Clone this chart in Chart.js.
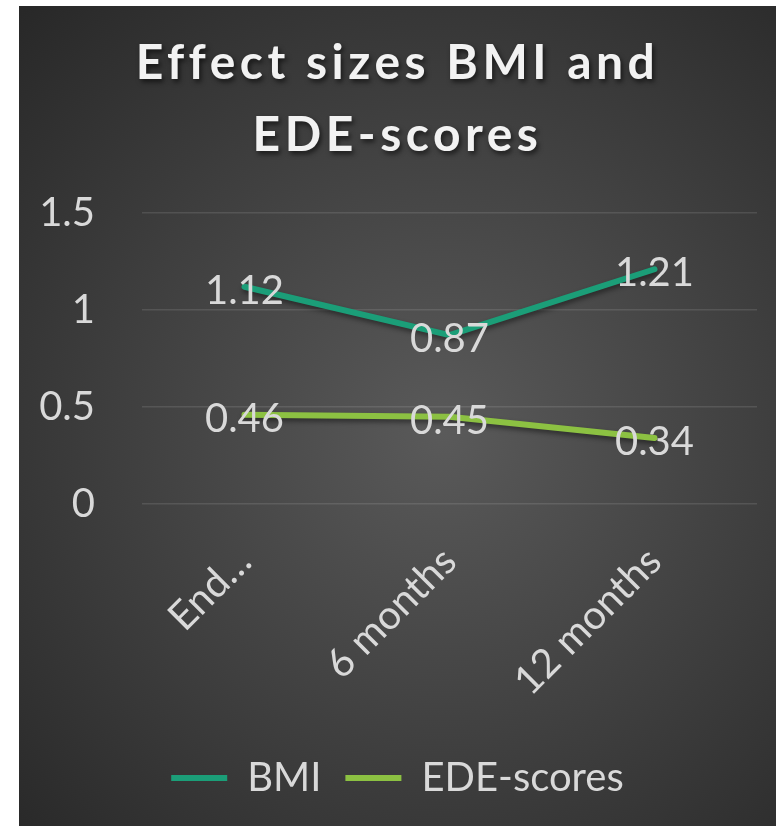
<!DOCTYPE html>
<html><head><meta charset="utf-8">
<script src="https://cdn.jsdelivr.net/npm/chart.js@4"></script>
<style>
html,body{margin:0;padding:0;background:#fff;}
#wrap{position:absolute;left:19px;top:6px;width:757px;height:820px;}
canvas{display:block;}
</style></head><body>
<div id="wrap"><canvas id="c" width="757" height="820"></canvas></div>
<script>
const categories = ["End…", "6 months", "12 months"];
const bmiValues = [1.12, 0.87, 1.21];
const edeValues = [0.46, 0.45, 0.34];
const seriesNames = ["BMI", "EDE-scores"];
const yMin = 0, yMax = 1.5, yStep = 0.5;
const titleLines = ["Effect sizes BMI and", "EDE-scores"];

const FONT = "Lato, 'Open Sans', sans-serif";
const TEXT = "#d9d9d9";

const bgPlugin = {
  id: 'bg',
  beforeDraw(chart) {
    const {ctx, width, height} = chart;
    const cx = width * 0.56, cy = height * 0.52;
    const g = ctx.createRadialGradient(cx, cy, 0, cx, cy, 620);
    g.addColorStop(0, '#5a5a5a');
    g.addColorStop(1, '#262626');
    ctx.save();
    ctx.fillStyle = g;
    ctx.fillRect(0, 0, width, height);
    ctx.restore();
  }
};

const lineFx = {
  id: 'lineFx',
  beforeDatasetsDraw(chart) {
    const ctx = chart.ctx;
    ctx.save();
    ctx.shadowColor = 'rgba(0,0,0,0.45)';
    ctx.shadowBlur = 5;
    ctx.shadowOffsetX = 1;
    ctx.shadowOffsetY = 3;
  },
  afterDatasetsDraw(chart) {
    const ctx = chart.ctx;
    ctx.restore();
    ctx.save();
    ctx.font = "40px " + FONT;
    ctx.fillStyle = TEXT;
    ctx.textAlign = 'center';
    ctx.textBaseline = 'middle';
    chart.data.datasets.forEach((ds, i) => {
      const meta = chart.getDatasetMeta(i);
      meta.data.forEach((pt, j) => {
        ctx.fillText(String(ds.data[j]), pt.x, pt.y + 4);
      });
    });
    ctx.restore();
  }
};

const chart = new Chart(document.getElementById('c'), {
  type: 'line',
  data: {
    labels: categories,
    datasets: [
      {label: seriesNames[0], data: bmiValues, borderColor: '#1b9e78', backgroundColor: '#1b9e78',
       borderWidth: 6, borderCapStyle: 'round', borderJoinStyle: 'round', pointRadius: 0, tension: 0},
      {label: seriesNames[1], data: edeValues, borderColor: '#8cc142', backgroundColor: '#8cc142',
       borderWidth: 6, borderCapStyle: 'round', borderJoinStyle: 'round', pointRadius: 0, tension: 0}
    ]
  },
  options: {
    responsive: false,
    animation: false,
    layout: {padding: {left: 19, right: 19, top: 0, bottom: 18}},
    plugins: {
      tooltip: {enabled: false},
      title: {
        display: true, text: titleLines, color: '#f2f2f2',
        font: {family: FONT, size: 48, weight: 'bold', lineHeight: 1.5},
        padding: {top: 22, bottom: 41}
      },
      legend: {
        position: 'bottom',
        labels: {
          usePointStyle: true, pointStyle: 'line', pointStyleWidth: 56,
          color: TEXT, font: {family: FONT, size: 40}, padding: 24
        }
      }
    },
    scales: {
      x: {
        offset: true,
        grid: {display: false},
        border: {display: false},
        ticks: {color: TEXT, font: {family: FONT, size: 40}, minRotation: 45, maxRotation: 45, autoSkip: false, padding: 26},
        afterFit(scale) { scale.height += 3; }
      },
      y: {
        min: yMin, max: yMax,
        grid: {color: 'rgba(255,255,255,0.11)', lineWidth: 1.5, drawTicks: false},
        border: {display: false},
        ticks: {stepSize: yStep, color: TEXT, font: {family: FONT, size: 40}, padding: 47,
                callback: v => String(v)},
        afterFit(scale) { scale.width = 104; }
      }
    }
  },
  plugins: [bgPlugin, lineFx]
});

const tb = chart.titleBlock;
const origDraw = tb.draw.bind(tb);
tb.draw = function() {
  const ctx = chart.ctx;
  ctx.save();
  ctx.shadowColor = 'rgba(0,0,0,0.6)';
  ctx.shadowBlur = 5;
  ctx.shadowOffsetX = 2;
  ctx.shadowOffsetY = 3;
  ctx.letterSpacing = '4.5px';
  origDraw();
  ctx.restore();
};
chart.draw();
</script>
</body></html>
